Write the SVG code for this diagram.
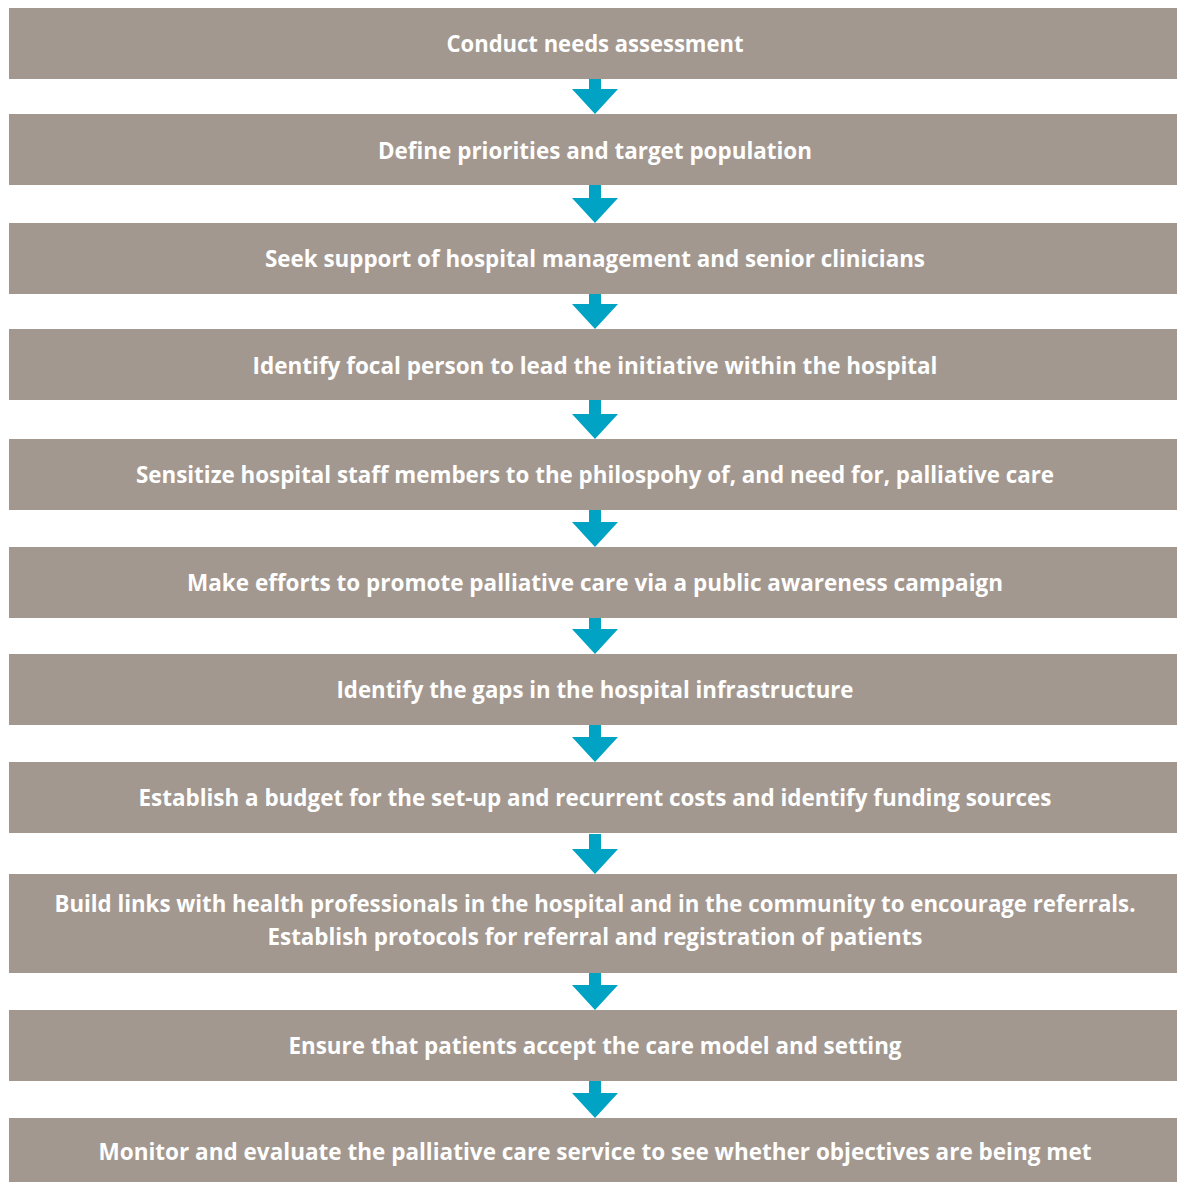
<svg xmlns="http://www.w3.org/2000/svg" width="1177" height="1182" viewBox="0 0 1177 1182">
<style>
.box{fill:#a3988f}
.lbl{font-family:"Open Sans","Liberation Sans",sans-serif;font-weight:700;font-size:23.5px;fill:#ffffff;text-anchor:middle}
.arr{fill:#00a3c3}
</style>
<defs>
<path id="arrow" class="arr" d="M-6,-40 H6 V-25 H23 L0,0 L-23,-25 H-6 Z"/>
</defs>
<rect width="1177" height="1182" fill="#ffffff"/>
<g id="connectors">
<use href="#arrow" x="595" y="114"/>
<use href="#arrow" x="595" y="223"/>
<use href="#arrow" x="595" y="329"/>
<use href="#arrow" x="595" y="439"/>
<use href="#arrow" x="595" y="547"/>
<use href="#arrow" x="595" y="654"/>
<use href="#arrow" x="595" y="762"/>
<use href="#arrow" x="595" y="874"/>
<use href="#arrow" x="595" y="1010"/>
<use href="#arrow" x="595" y="1118"/>
</g>
<g id="n1"><rect class="box" x="9" y="8" width="1168" height="71"/><text class="lbl" x="595" y="52" textLength="297" lengthAdjust="spacingAndGlyphs">Conduct needs assessment</text></g>
<g id="n2"><rect class="box" x="9" y="114" width="1168" height="71"/><text class="lbl" x="595" y="159" textLength="434" lengthAdjust="spacingAndGlyphs">Define priorities and target population</text></g>
<g id="n3"><rect class="box" x="9" y="223" width="1168" height="71"/><text class="lbl" x="595" y="267" textLength="660" lengthAdjust="spacingAndGlyphs">Seek support of hospital management and senior clinicians</text></g>
<g id="n4"><rect class="box" x="9" y="329" width="1168" height="71"/><text class="lbl" x="595" y="374" textLength="685" lengthAdjust="spacingAndGlyphs">Identify focal person to lead the initiative within the hospital</text></g>
<g id="n5"><rect class="box" x="9" y="439" width="1168" height="71"/><text class="lbl" x="595" y="483" textLength="918" lengthAdjust="spacingAndGlyphs">Sensitize hospital staff members to the philospohy of, and need for, palliative care</text></g>
<g id="n6"><rect class="box" x="9" y="547" width="1168" height="71"/><text class="lbl" x="595" y="591" textLength="816" lengthAdjust="spacingAndGlyphs">Make efforts to promote palliative care via a public awareness campaign</text></g>
<g id="n7"><rect class="box" x="9" y="654" width="1168" height="71"/><text class="lbl" x="595" y="698" textLength="517" lengthAdjust="spacingAndGlyphs">Identify the gaps in the hospital infrastructure</text></g>
<g id="n8"><rect class="box" x="9" y="762" width="1168" height="71"/><text class="lbl" x="595" y="806" textLength="913" lengthAdjust="spacingAndGlyphs">Establish a budget for the set-up and recurrent costs and identify funding sources</text></g>
<g id="n9"><rect class="box" x="9" y="874" width="1168" height="99"/><text class="lbl" x="595" y="912" textLength="1081" lengthAdjust="spacingAndGlyphs">Build links with health professionals in the hospital and in the community to encourage referrals.</text><text class="lbl" x="595" y="945" textLength="655" lengthAdjust="spacingAndGlyphs">Establish protocols for referral and registration of patients</text></g>
<g id="n10"><rect class="box" x="9" y="1010" width="1168" height="71"/><text class="lbl" x="595" y="1054" textLength="613" lengthAdjust="spacingAndGlyphs">Ensure that patients accept the care model and setting</text></g>
<g id="n11"><rect class="box" x="9" y="1118" width="1168" height="64"/><text class="lbl" x="595" y="1160" textLength="993" lengthAdjust="spacingAndGlyphs">Monitor and evaluate the palliative care service to see whether objectives are being met</text></g>
</svg>
